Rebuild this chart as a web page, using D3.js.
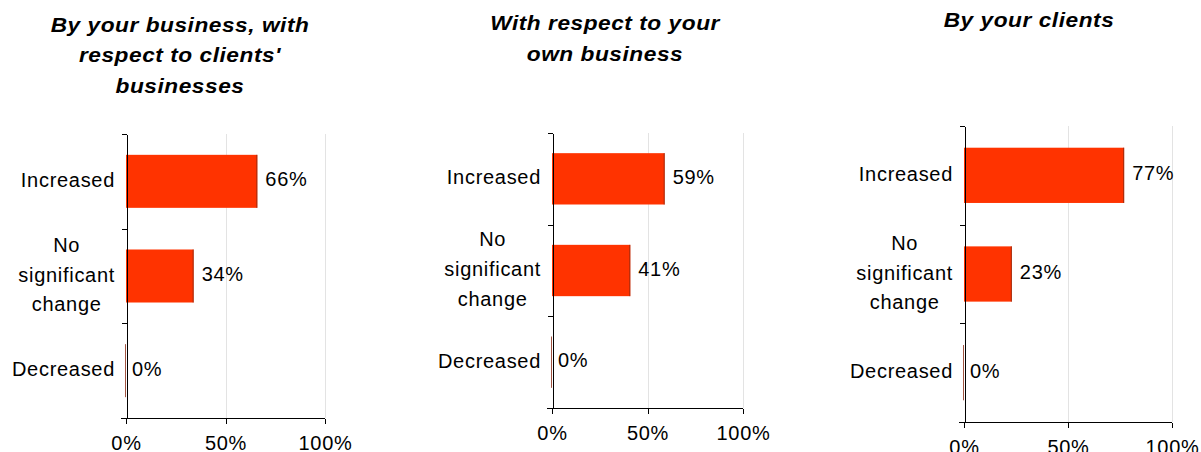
<!DOCTYPE html>
<html>
<head>
<meta charset="utf-8">
<script src="https://cdn.jsdelivr.net/npm/d3@7"></script>
<style>
  html, body { margin: 0; padding: 0; background: #fff; }
  svg { display: block; }
  text { font-family: "Liberation Sans", Arial, sans-serif; fill: #000; }
  .title { font-size: 21px; font-weight: bold; font-style: italic; letter-spacing: 0.5px; }
  .lbl { font-size: 20px; letter-spacing: 0.7px; }
  .axis text { font-family: "Liberation Sans", Arial, sans-serif; font-size: 20px; letter-spacing: 0.7px; fill: #000; }
  .axis path, .axis line { stroke: #000; stroke-width: 1; shape-rendering: crispEdges; }
</style>
</head>
<body>
<svg id="chart" width="1201" height="452"></svg>
<script>
// ---- data ----
const categories = ["Increased", "No significant change", "Decreased"];
const categoryLines = [["Increased"], ["No", "significant", "change"], ["Decreased"]];
const titles = [
  ["By your business, with", "respect to clients'", "businesses"],
  ["With respect to your", "own business"],
  ["By your clients"]
];
const byBusinessForClients = [66, 34, 0];
const ownBusiness = [59, 41, 0];
const byClients = [77, 23, 0];
const seriesValues = [byBusinessForClients, ownBusiness, byClients];
const xTickValues = [0, 50, 100];
const xTickLabels = ["0%", "50%", "100%"];

// ---- layout of the three small panels ----
const layout = [
  { x0: 126, x1: 325, y0: 134, y1: 418, titleX: 180, titleY: 31.5 },
  { x0: 552, x1: 743, y0: 133, y1: 408, titleX: 605, titleY: 30 },
  { x0: 964, x1: 1172, y0: 126, y1: 422, titleX: 1029, titleY: 27 }
];
const barColor = "#ff3300";
const barEdge = "#8a2a12";
const gridColor = "#e3e3e3";

const svg = d3.select("#chart");

seriesValues.forEach((values, p) => {
  const L = layout[p];
  const g = svg.append("g");

  // title (slightly widened bold italic)
  const t = g.append("g")
    .attr("transform", `translate(${L.titleX},${L.titleY}) scale(1.08,1)`)
    .append("text").attr("class", "title")
    .attr("text-anchor", "middle");
  titles[p].forEach((line, i) => {
    t.append("tspan").attr("x", 0).attr("y", i * 31).text(line);
  });

  const x = d3.scaleLinear().domain([0, 100]).range([L.x0, L.x1]);
  const y = d3.scaleBand().domain(categories).range([L.y0, L.y1])
    .paddingInner(0.44).paddingOuter(0.22);
  const yEdges = d3.scaleLinear().domain([0, categories.length]).range([L.y0, L.y1]);

  // vertical gridlines
  g.append("g").selectAll("line")
    .data(xTickValues.filter(v => v > 0))
    .join("line")
    .attr("x1", d => Math.round(x(d)) + 0.5).attr("x2", d => Math.round(x(d)) + 0.5)
    .attr("y1", L.y0).attr("y2", L.y1)
    .attr("stroke", gridColor).attr("stroke-width", 1);

  // bars
  const bars = g.append("g").selectAll("g")
    .data(categories.map((c, i) => ({ c, v: values[i] })))
    .join("g");
  bars.append("rect")
    .attr("x", x(0))
    .attr("y", d => y(d.c))
    .attr("width", d => x(d.v) - x(0))
    .attr("height", y.bandwidth())
    .attr("fill", barColor);
  bars.append("line")
    .attr("x1", d => x(d.v) - 0.5).attr("x2", d => x(d.v) - 0.5)
    .attr("y1", d => y(d.c)).attr("y2", d => y(d.c) + y.bandwidth())
    .attr("stroke", barEdge).attr("stroke-width", 1).attr("opacity", 0.8);

  // value labels
  g.append("g").selectAll("text")
    .data(categories.map((c, i) => ({ c, v: values[i] })))
    .join("text").attr("class", "lbl")
    .attr("x", d => x(d.v) + (d.v > 0 ? 8 : 6))
    .attr("y", d => y(d.c) + y.bandwidth() / 2 + 5)
    .text(d => d.v + "%");

  // left axis: boundary ticks between categories
  g.append("g").attr("class", "axis")
    .attr("transform", `translate(${Math.round(L.x0) + 0.5},0)`)
    .call(d3.axisLeft(yEdges).tickValues(d3.range(categories.length + 1))
      .tickSize(5).tickSizeOuter(0).tickFormat(""));

  // bottom axis
  g.append("g").attr("class", "axis")
    .attr("transform", `translate(0,${Math.round(L.y1) + 0.5})`)
    .call(d3.axisBottom(x).tickValues(xTickValues)
      .tickSize(5).tickSizeOuter(0).tickPadding(12)
      .tickFormat((d, i) => xTickLabels[i]))
    .call(a => a.select(".domain").attr("d", `M${L.x0 - 5},0H${L.x1}`));

  // category labels (multi-line labels are centred within a right-aligned block)
  const catG = g.append("g");
  categories.forEach((c, i) => {
    const lines = categoryLines[i];
    const cy = y(c) + y.bandwidth() / 2;
    const texts = lines.map((ln, k) => catG.append("text").attr("class", "lbl")
      .attr("text-anchor", "middle")
      .attr("y", cy + 5.5 + (k - (lines.length - 1) / 2) * 29.7)
      .text(ln));
    const maxW = d3.max(texts, tx => tx.node().getComputedTextLength());
    const cx = L.x0 - 11 - maxW / 2;
    texts.forEach(tx => tx.attr("x", cx));
  });
});
</script>
</body>
</html>
